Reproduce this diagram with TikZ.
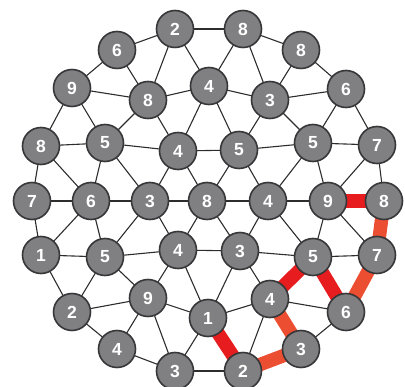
\documentclass[tikz,border=0pt]{standalone}
\usepackage{fontspec}
\setmainfont{Liberation Sans}
\pgfdeclarelayer{bg}
\pgfsetlayers{bg,main}
\definecolor{nodefill}{RGB}{128,128,130}
\definecolor{nodeline}{RGB}{55,55,58}
\definecolor{edgecol}{RGB}{45,45,45}
\definecolor{pathred}{RGB}{230,28,30}
\definecolor{pathorange}{RGB}{236,78,50}
\tikzset{
  num/.style={circle, draw=nodeline, line width=1.6pt, fill=nodefill, minimum size=37pt, inner sep=0pt,
    text=white, font=\fontsize{17.5}{17.5}\selectfont\bfseries},
  edge/.style={draw=edgecol, line width=1.1pt},
  redpath/.style={draw=pathred, line width=13.5pt},
  orpath/.style={draw=pathorange, line width=13.5pt}
}
\begin{document}
\begin{tikzpicture}[x=1pt,y=-1pt]
\useasboundingbox (0,0) rectangle (405,387);
\node[num] (A1) at (175,29) {2};
\node[num] (A2) at (243,29) {8};
\node[num] (B1) at (117,50) {6};
\node[num] (B2) at (301,50) {8};
\node[num] (C1) at (72,88) {9};
\node[num] (C2) at (148,100) {8};
\node[num] (C3) at (209,86) {4};
\node[num] (C4) at (270,100) {3};
\node[num] (C5) at (346,89) {6};
\node[num] (D1) at (41,146) {8};
\node[num] (D2) at (105,143) {5};
\node[num] (D3) at (178,151) {4};
\node[num] (D4) at (239,150) {5};
\node[num] (D5) at (313,143) {5};
\node[num] (D6) at (377,145) {7};
\node[num] (E1) at (32,201) {7};
\node[num] (E2) at (91,201) {6};
\node[num] (E3) at (150,201) {3};
\node[num] (E4) at (207,201) {8};
\node[num] (E5) at (268,201) {4};
\node[num] (E6) at (328,201) {9};
\node[num] (E7) at (384,201) {8};
\node[num] (F1) at (41,255) {1};
\node[num] (F2) at (105,257) {5};
\node[num] (F3) at (178,250) {4};
\node[num] (F4) at (240,251) {3};
\node[num] (F5) at (313,257) {5};
\node[num] (F6) at (377,255) {7};
\node[num] (G1) at (72,312) {2};
\node[num] (G2) at (148,298) {9};
\node[num] (G3) at (208,318) {1};
\node[num] (G4) at (270,299) {4};
\node[num] (G5) at (346,312) {6};
\node[num] (H1) at (117,349) {4};
\node[num] (H2) at (301,349) {3};
\node[num] (I1) at (175,371) {3};
\node[num] (I2) at (243,371) {2};
\begin{pgfonlayer}{bg}
\foreach \a/\b in {A1/A2,A1/B1,A1/C2,A1/C3,A2/B2,A2/C3,A2/C4,B1/C1,B1/C2,B2/C4,B2/C5,
  C1/C2,C1/D1,C1/D2,C2/C3,C2/D2,C2/D3,C3/C4,C3/D3,C3/D4,C4/C5,C4/D4,C4/D5,C5/D5,C5/D6,
  D1/D2,D1/E1,D1/E2,D2/D3,D2/E2,D2/E3,D3/D4,D3/E3,D3/E4,D4/D5,D4/E4,D4/E5,D5/D6,D5/E5,D5/E6,
  D6/E6,D6/E7,E1/E2,E1/F1,E2/E3,E2/F1,E2/F2,E3/E4,E3/F2,E3/F3,E4/E5,E4/F3,E4/F4,
  E5/E6,E5/F4,E5/F5,E6/F5,E6/F6,F1/F2,F1/G1,F2/F3,F2/G1,F2/G2,F3/F4,F3/G2,F3/G3,
  F4/F5,F4/G3,F4/G4,F5/F6,G1/G2,G1/H1,G2/G3,G2/H1,G2/I1,G3/G4,G3/I1,G4/G5,G4/I2,
  G5/H2,H1/I1,I1/I2}
  \draw[edge] (\a.center) -- (\b.center);
\foreach \a/\b in {E6/E7,F5/G4,G3/I2,F5/G5}
  \draw[redpath] (\a.center) -- (\b.center);
\foreach \a/\b in {E7/F6,F6/G5,G4/H2,H2/I2}
  \draw[orpath] (\a.center) -- (\b.center);
\end{pgfonlayer}
\end{tikzpicture}
\end{document}
